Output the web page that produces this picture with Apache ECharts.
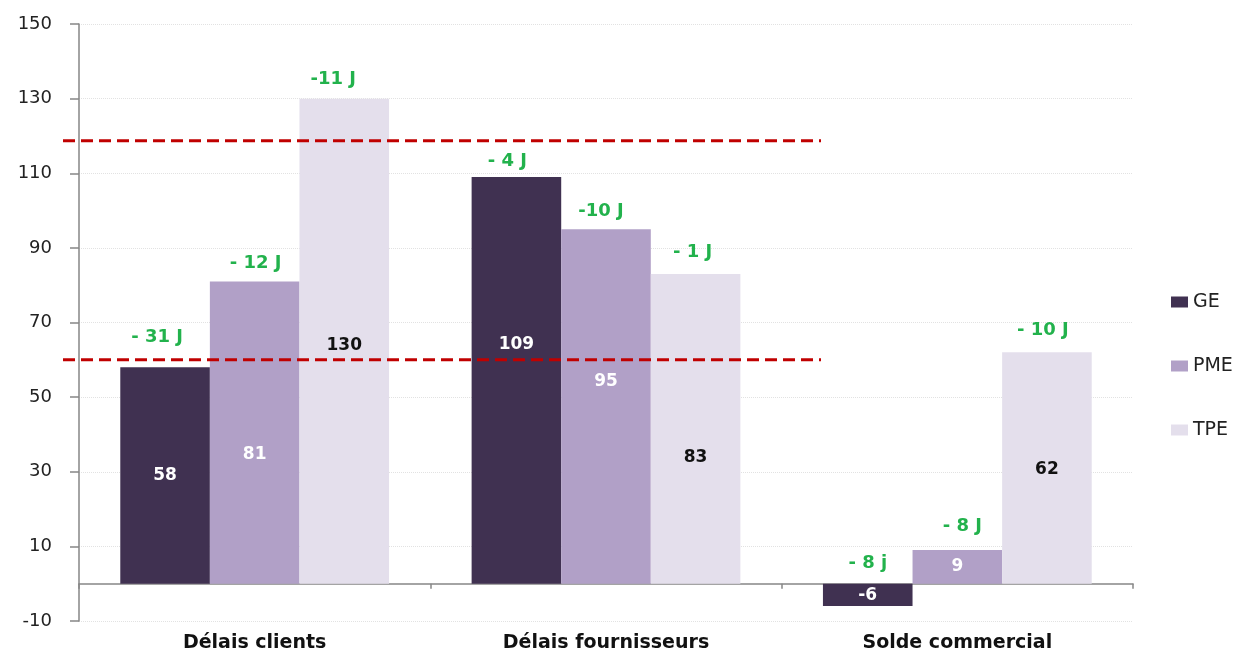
<!DOCTYPE html>
<html>
<head>
<meta charset="utf-8">
<title>Délais de paiement</title>
<script src="https://cdn.jsdelivr.net/npm/echarts@6/dist/echarts.min.js"></script>
<style>
  html, body { margin: 0; padding: 0; background: #ffffff; }
  #chart { width: 1245px; height: 657px; }
</style>
</head>
<body>
<div id="chart"></div>
<script>
// ---- data ----
const categories = ['Délais clients', 'Délais fournisseurs', 'Solde commercial'];
const seriesNames = ['GE', 'PME', 'TPE'];
const valuesGE = [58, 109, -6];
const valuesPME = [81, 95, 9];
const valuesTPE = [130, 83, 62];
// variation in days shown above each bar
const deltasGE = ['- 31 J', '- 4 J', '- 8 j'];
const deltasPME = ['- 12 J', '-10 J', '- 8 J'];
const deltasTPE = ['-11 J', '- 1 J', '- 10 J'];
// horizontal reference levels (dashed red)
const referenceLevels = [118.7, 60];
const yMin = -10, yMax = 150, yStep = 20;

// ---- styling / layout ----
const FONT = 'DejaVu Sans';
const COLORS = { GE: '#403151', PME: '#b1a0c7', TPE: '#e4dfec' };
const VALUE_COLORS = { GE: '#ffffff', PME: '#ffffff', TPE: '#111111' };
const GREEN = '#22b24c';
const AXIS_GREY = '#868686';
const PLOT = { top: 24, bottom: 36 };
// vertical nudges of the value labels inside the bars (px)
const valueNudge = { GE: [0, -36, 1], PME: [22, -25, 0], TPE: [4, 29, 2] };
// nudges of the variation labels above the bars (px)
const deltaNudge = {
  GE: [[-8, -21], [-9, -7], [0, -11]],
  PME: [[1, -9], [-5, -9], [5, -15]],
  TPE: [[-11, -10], [-3, -13], [-4, -13]]
};

const barLayout = { barGap: '0%', barCategoryGap: '23.5%' };

function valueBars(name, values) {
  return Object.assign({
    name: name,
    type: 'bar',
    xAxisIndex: 0,
    yAxisIndex: 0,
    data: values.map((v, i) => ({ value: v, label: { offset: [0, valueNudge[name][i]] } })),
    itemStyle: { color: COLORS[name] },
    label: {
      show: true, position: 'inside', color: VALUE_COLORS[name],
      fontFamily: FONT, fontWeight: 'bold', fontSize: 17
    },
    emphasis: { disabled: true }
  }, barLayout);
}

function deltaBars(name, values, texts) {
  return Object.assign({
    name: 'Variation ' + name,
    type: 'bar',
    xAxisIndex: 1,
    yAxisIndex: 0,
    silent: true,
    legendHoverLink: false,
    data: values.map((v, i) => ({
      value: v,
      label: { formatter: texts[i], offset: deltaNudge[name][i] }
    })),
    itemStyle: { color: 'rgba(0,0,0,0)' },
    label: {
      show: true, position: 'top', distance: 0, color: GREEN,
      fontFamily: FONT, fontWeight: 'bold', fontSize: 18, lineHeight: 18
    },
    emphasis: { disabled: true }
  }, barLayout);
}

// the dashed levels live in their own overlay grid, which starts a little
// left of the value axis and stops past the second category
function referenceLine(level) {
  return {
    type: 'line',
    xAxisIndex: 2,
    yAxisIndex: 1,
    silent: true,
    clip: false,
    symbol: 'none',
    data: [[0, level], [1, level]],
    lineStyle: { color: '#c00000', width: 3, type: [12, 6] },
    z: 5
  };
}

const chart = echarts.init(document.getElementById('chart'));
chart.setOption({
  animation: false,
  backgroundColor: '#ffffff',
  textStyle: { fontFamily: FONT },
  grid: [
    { left: 79, right: 112, top: PLOT.top, bottom: PLOT.bottom, containLabel: false },
    { left: 63, width: 758, top: PLOT.top, bottom: PLOT.bottom, containLabel: false }
  ],
  legend: {
    data: seriesNames,
    orient: 'vertical',
    left: 1166,
    top: 287,
    icon: 'rect',
    itemWidth: 17,
    itemHeight: 11,
    itemGap: 44,
    textStyle: { fontFamily: FONT, fontSize: 19, lineHeight: 20, color: '#222222' }
  },
  xAxis: [
    {
      type: 'category',
      gridIndex: 0,
      position: 'bottom',
      data: categories,
      axisLine: { show: false, onZero: false },
      axisTick: { show: false },
      axisLabel: { fontFamily: FONT, fontWeight: 'bold', fontSize: 19, color: '#111111', margin: 13 },
      splitLine: { show: false }
    },
    {
      type: 'category',
      gridIndex: 0,
      position: 'bottom',
      data: categories,
      axisLine: { show: true, onZero: true, lineStyle: { color: AXIS_GREY, width: 1.5 } },
      axisTick: { show: true, length: 5, lineStyle: { color: AXIS_GREY, width: 1.5 } },
      axisLabel: { show: false },
      splitLine: { show: false }
    },
    { type: 'value', gridIndex: 1, min: 0, max: 1, show: false }
  ],
  yAxis: [
    {
      type: 'value',
      gridIndex: 0,
      min: yMin,
      max: yMax,
      interval: yStep,
      axisLine: { show: true, lineStyle: { color: AXIS_GREY, width: 1.5 } },
      axisTick: { show: true, length: 9, lineStyle: { color: AXIS_GREY, width: 1.5 } },
      axisLabel: { fontFamily: FONT, fontSize: 18, color: '#222222', margin: 27 },
      splitLine: { show: true, lineStyle: { color: '#e2e2e2', type: 'dotted', width: 1 } }
    },
    { type: 'value', gridIndex: 1, min: yMin, max: yMax, show: false }
  ],
  series: [
    valueBars('GE', valuesGE),
    valueBars('PME', valuesPME),
    valueBars('TPE', valuesTPE),
    deltaBars('GE', valuesGE, deltasGE),
    deltaBars('PME', valuesPME, deltasPME),
    deltaBars('TPE', valuesTPE, deltasTPE)
  ].concat(referenceLevels.map(referenceLine))
});
</script>
</body>
</html>
